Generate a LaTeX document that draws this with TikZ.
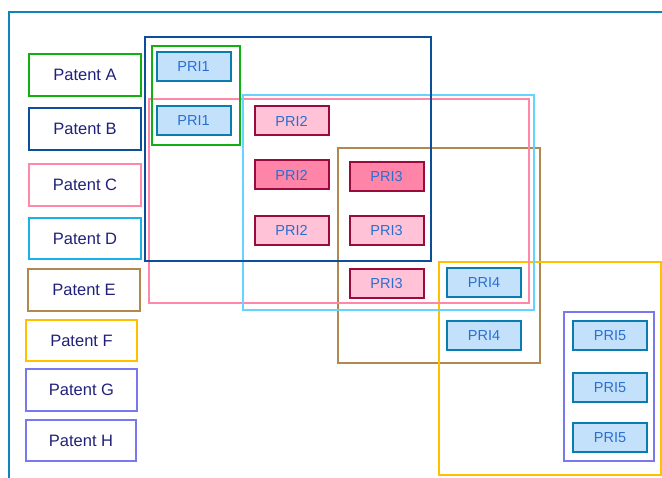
\documentclass[tikz,border=0pt]{standalone}
\usepackage{fontspec}
\setmainfont{Liberation Sans}
\usetikzlibrary{positioning}

\definecolor{frameblue}{HTML}{0E84B8}
\definecolor{grpA}{HTML}{10B010}
\definecolor{grpB}{HTML}{0D4E9A}
\definecolor{grpC}{HTML}{FF88AA}
\definecolor{grpD}{HTML}{1AB0E8}
\definecolor{grpDframe}{HTML}{66D4FF}
\definecolor{grpE}{HTML}{B08850}
\definecolor{grpF}{HTML}{FFC000}
\definecolor{grpG}{HTML}{7A78EE}
\definecolor{prifill}{HTML}{C4E1FC}
\definecolor{priline}{HTML}{0A7DB0}
\definecolor{pinkfill}{HTML}{FFC2D6}
\definecolor{pinkdark}{HTML}{FF85A8}
\definecolor{redline}{HTML}{9B0A3C}
\definecolor{patenttext}{HTML}{20207A}
\definecolor{pritext}{HTML}{2A6FD0}

\tikzset{
  patent/.style={shape=rectangle, draw=#1, line width=1.6pt, minimum width=112pt,
    minimum height=42pt, inner sep=0pt, text=patenttext,
    font=\fontsize{16.5}{18}\selectfont},
  pri/.style={shape=rectangle, draw=priline, fill=prifill, line width=2pt,
    minimum width=74pt, minimum height=29pt, inner sep=0pt, text=pritext,
    font=\fontsize{14.5}{16}\selectfont},
  prired/.style={pri, draw=redline, fill=#1},
  group/.style={draw=#1, line width=2pt}
}

\begin{document}
\begin{tikzpicture}[x=1pt, y=-1pt]
\useasboundingbox (0,0) rectangle (662,478);

% outer frame, only top and left edges show
\draw [frameblue, line width=2pt] (9,478) -- (9,12) -- (662,12);

% patent labels
\node (patA) at (85,75) [patent=grpA] {Patent A};
\node (patB) at (85,129) [patent=grpB] {Patent B};
\node (patC) at (85,185) [patent=grpC] {Patent C};
\node (patD) at (85,238.5) [patent=grpD, minimum height=41pt] {Patent D};
\node (patE) at (84,290) [patent=grpE] {Patent E};
\node (patF) at (81.5,340.5) [patent=grpF, minimum width=111pt, minimum height=41pt] {Patent F};
\node (patG) at (81.5,390) [patent=grpG, minimum width=111pt] {Patent G};
\node (patH) at (81,440.5) [patent=grpG, minimum width=110pt, minimum height=41pt] {Patent H};

% group frames
\draw [group=grpE] (338,148) rectangle (540,363);
\draw [group=grpF] (439,262) rectangle (661,475);
\draw [group=grpC] (149,99) rectangle (529,303);
\draw [group=grpDframe] (243,95.5) rectangle (534,310);
\draw [group=grpA] (152,46) rectangle (240,145);
\draw [group=grpB] (145,37) rectangle (431,261);
\draw [group=grpG] (564,312) rectangle (654,461);

% priority boxes
\node (priA) at (193.5,67) [pri] {PRI1};
\node (priB) at (193.5,121) [pri] {PRI1};

\node (priC) at (291.5,121) [prired=pinkfill] {PRI2};
\node (priD) at (291.5,175) [prired=pinkdark] {PRI2};
\node (priE) at (291.5,230.5) [prired=pinkfill] {PRI2};

\node (priF) at (386.5,177) [prired=pinkdark] {PRI3};
\node (priG) at (386.5,230.5) [prired=pinkfill] {PRI3};
\node (priH) at (386.5,283.5) [prired=pinkfill] {PRI3};

\node (priI) at (484,283) [pri] {PRI4};
\node (priJ) at (484,335.5) [pri] {PRI4};

\node (priK) at (610,335.5) [pri] {PRI5};
\node (priL) at (610,388) [pri] {PRI5};
\node (priM) at (610,438) [pri] {PRI5};
\end{tikzpicture}
\end{document}
